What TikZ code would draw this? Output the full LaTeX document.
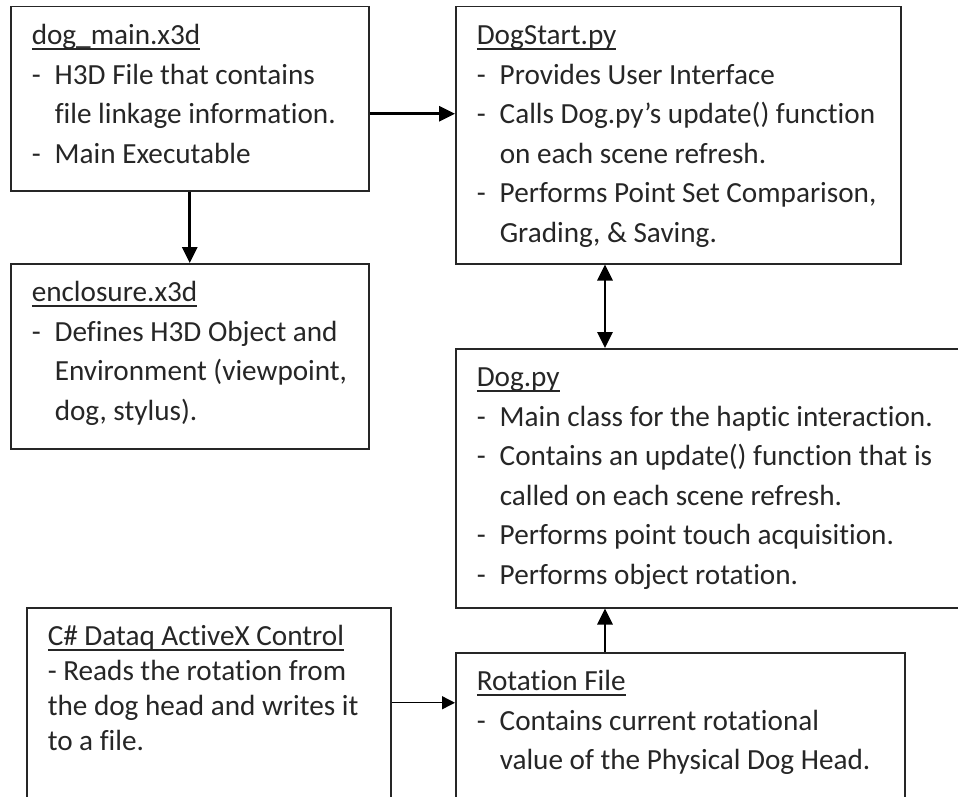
\documentclass[tikz,border=0pt]{standalone}
\usepackage{fontspec}
\setmainfont{Carlito}[Ligatures={TeX,NoCommon}]
\usepackage{calc}
\usetikzlibrary{arrows.meta,positioning}

\newcommand{\boxtitle}[1]{\rule{0pt}{38pt}\rlap{\rule[-5pt]{\widthof{#1}}{1.3pt}}#1}
\newcommand{\boxitem}[1]{\par\noindent\hangindent=23pt\hangafter=1\makebox[23pt][l]{-}#1}
\newcommand{\boxbody}[3]{\parbox[t][#2pt][t]{#1pt}{#3}}

\begin{document}
\begin{tikzpicture}[
		x=1pt, y=-1pt,
		box/.style={draw=black!85, line width=1.5pt, anchor=north west, inner xsep=21pt, inner ysep=0pt,
				text=black!85, font=\fontsize{29.2}{39.5}\selectfont},
		arr/.style={-{Triangle[length=16pt,width=15pt]}, line width=2.8pt},
		dblarr/.style={{Triangle[length=16pt,width=15pt]}-{Triangle[length=16pt,width=15pt]}, line width=2.8pt},
		thinarr/.style={-{Triangle[length=13pt,width=13pt]}, line width=1.4pt}
	]
	\useasboundingbox (0,0) rectangle (958,797);
	\node[box] (main) at (10,6) {\boxbody{316}{184}{%
			\boxtitle{dog\_main.x3d}
			\boxitem{H3D File that contains\\ file linkage information.}
			\boxitem{Main Executable}}};
	\node[box] (start) at (455,6) {\boxbody{403}{257}{%
			\boxtitle{DogStart.py}
			\boxitem{Provides User Interface}
			\boxitem{Calls Dog.py's update() function\\ on each scene refresh.}
			\boxitem{Performs Point Set Comparison,\\ Grading, \& Saving.}}};
	\node[box] (encl) at (10,263) {\boxbody{316}{185}{%
			\boxtitle{enclosure.x3d}
			\boxitem{Defines H3D Object and\\ Environment (viewpoint,\\ dog, stylus).}}};
	\node[box] (dogpy) at (455,348) {\boxbody{478}{259}{%
			\boxtitle{Dog.py}
			\boxitem{Main class for the haptic interaction.}
			\boxitem{Contains an update() function that is\\ called on each scene refresh.}
			\boxitem{Performs point touch acquisition.}
			\boxitem{Performs object rotation.}}};
	\node[box, font=\fontsize{29.2}{35}\selectfont] (dataq) at (26,607) {\boxbody{322}{190}{%
			\boxtitle{C\# Dataq ActiveX Control}
			\par\noindent - Reads the rotation from\\ the dog head and writes it\\ to a file.}};
	\node[box] (rotfile) at (455,652) {\boxbody{407}{170}{%
			\boxtitle{Rotation File}
			\boxitem{Contains current rotational\\ value of the Physical Dog Head.}}};

	\coordinate (link) at ([xshift=150pt]start.south west);
	\draw[arr] ([yshift=-15pt]main.east) -- ([yshift=-15pt]main.east -| start.west);
	\draw[arr] (main.south) -- (encl.north);
	\draw[dblarr] (link) -- (link |- dogpy.north);
	\draw[arr] (link |- rotfile.north) -- (link |- dogpy.south);
	\draw[thinarr] (dataq.east) -- (dataq.east -| rotfile.west);
\end{tikzpicture}
\end{document}
